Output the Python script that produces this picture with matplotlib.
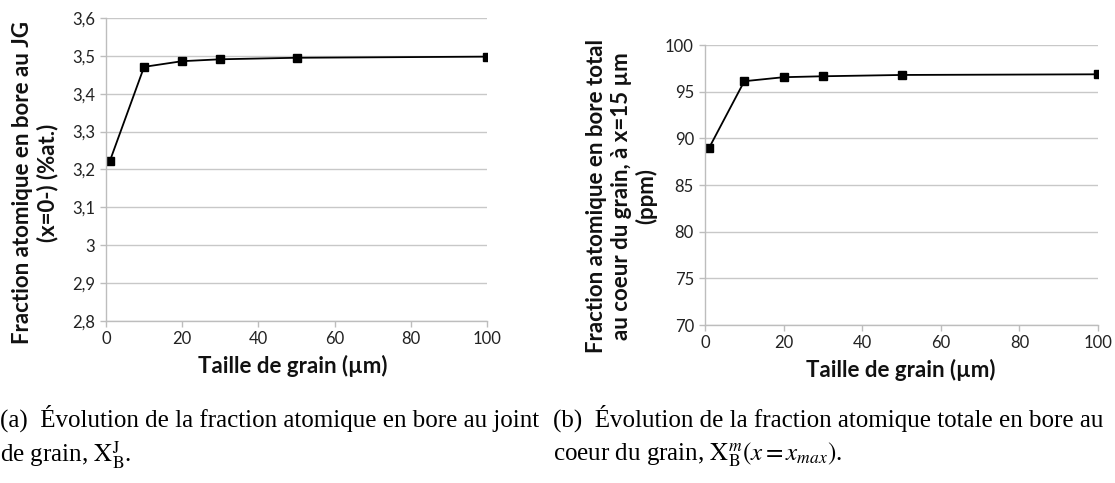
import matplotlib
matplotlib.use("Agg")
import matplotlib.pyplot as plt

grain_size = [1, 10, 20, 30, 50, 100]
frac_joint = [3.222, 3.471, 3.486, 3.491, 3.495, 3.498]
frac_core = [88.94, 96.12, 96.55, 96.65, 96.79, 96.86]

xticks = [0, 20, 40, 60, 80, 100]
yticks_a = [2.8, 2.9, 3.0, 3.1, 3.2, 3.3, 3.4, 3.5, 3.6]
yticks_b = [70, 75, 80, 85, 90, 95, 100]

ylabel_a = "Fraction atomique en bore au JG\n(x=0-) (%at.)"
ylabel_b = "Fraction atomique en bore total\nau coeur du grain, à x=15 µm\n(ppm)"
xlabel = "Taille de grain (µm)"
cap_a1 = "(a)  Évolution de la fraction atomique en bore au joint"
cap_a2 = r"de grain, $\mathrm{X}_{\mathrm{B}}^{\mathrm{J}}$."
cap_b1 = "(b)  Évolution de la fraction atomique totale en bore au"
cap_b2 = r"coeur du grain, $\mathrm{X}_{\mathrm{B}}^{m}(x = x_{max})$."

plt.rcParams['font.family'] = ['Lato', 'DejaVu Sans']
plt.rcParams['mathtext.fontset'] = 'stix'

W, H = 1115, 483
fig = plt.figure(figsize=(W / 100, H / 100), dpi=100)

def fmt(v):
    return ("%g" % v).replace(".", ",")

def make_ax(rect, y, yticks, ylabel, ylab_xy, xlab_xy):
    l, t, r, b = rect
    ax = fig.add_axes([l / W, 1 - b / H, (r - l) / W, (b - t) / H])
    ax.plot(grain_size, y, color='black', lw=1.3, marker='s', ms=6)
    ax.set_xlim(0, 100)
    ax.set_ylim(yticks[0], yticks[-1])
    ax.set_xticks(xticks)
    ax.set_yticks(yticks)
    ax.set_xticklabels([str(v) for v in xticks])
    ax.set_yticklabels([fmt(v) for v in yticks])
    ax.grid(axis='y', color='#c8c8c8', lw=1.0)
    ax.set_axisbelow(True)
    for s in ['top', 'right']:
        ax.spines[s].set_visible(False)
    for s in ['left', 'bottom']:
        ax.spines[s].set_color('#bdbdbd')
        ax.spines[s].set_linewidth(1.0)
    ax.tick_params(axis='both', colors='#bdbdbd', labelcolor='#222222',
                   labelsize=12, length=4, width=1.0)
    ax.tick_params(axis='x', pad=3)
    ax.tick_params(axis='y', pad=4)
    fig.text(xlab_xy[0] / W, 1 - xlab_xy[1] / H, xlabel, fontsize=16,
             fontweight='bold', color='#111111', ha='center', va='center')
    fig.text(ylab_xy[0] / W, 1 - ylab_xy[1] / H, ylabel, fontsize=16,
             fontweight='bold', color='#111111', ha='center', va='center',
             rotation=90, multialignment='center', linespacing=1.2)
    return ax

make_ax((106, 18, 487, 321), frac_joint, yticks_a, ylabel_a, (35, 183), (293, 366))
make_ax((705, 45, 1098, 325), frac_core, yticks_b, ylabel_b, (622, 196), (901, 370))

cap_kw = dict(family='Liberation Serif', fontsize=18, va='center', ha='left')
fig.text(0 / W, 1 - 418 / H, cap_a1, **cap_kw)
fig.text(0 / W, 1 - 455 / H, cap_a2, **cap_kw)
fig.text(553 / W, 1 - 418 / H, cap_b1, **cap_kw)
fig.text(553 / W, 1 - 455 / H, cap_b2, **cap_kw)

fig.savefig("out.png", dpi=100)
